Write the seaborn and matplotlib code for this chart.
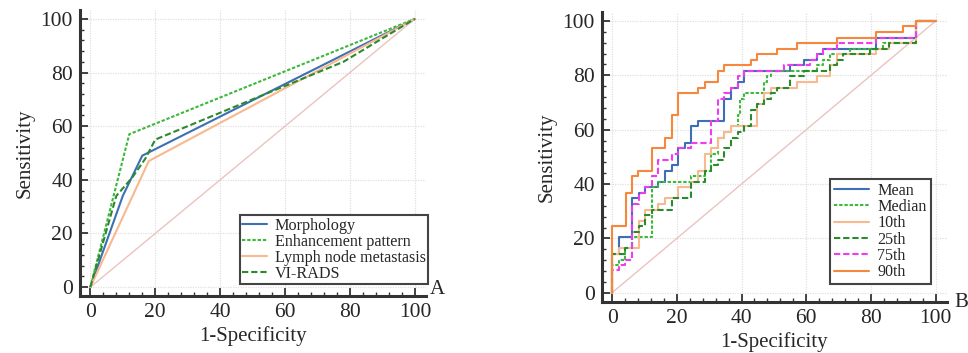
import numpy as np
import pandas as pd
import matplotlib
matplotlib.use("Agg")
import matplotlib.pyplot as plt
import seaborn as sns
from matplotlib.ticker import MultipleLocator

# ---- panel A : ROC of the categorical signs ----
morph_x = [0, 10, 16, 100]
morph_y = [0, 34, 49, 100]
enh_x = [0, 12, 100]
enh_y = [0, 57, 100]
lymph_x = [0, 18, 100]
lymph_y = [0, 47, 100]
virads_x = [0, 8, 13, 17, 20, 78, 100]
virads_y = [0, 34, 41, 48, 55, 84, 100]

# ---- panel B : step ROC curves (fpr where the curve jumps up to tpr) ----
mean_x = [0, 0, 2.0, 6.1, 8.2, 10.2, 14.3, 16.3, 18.4, 20.4, 22.4, 24.5, 26.5, 34.7, 36.7, 38.8, 40.8,
          55.1, 59.2, 63.3, 65.3, 81.6, 93.9, 100]
mean_y = [0, 14.3, 20.4, 34.7, 36.7, 38.8, 40.8, 44.9, 46.9, 53.1, 55.1, 61.2, 63.3, 71.4, 75.5, 77.6, 81.6,
          83.7, 85.7, 87.8, 89.8, 93.9, 100, 100]
median_x = [0, 0, 2.0, 4.1, 6.1, 12.2, 14.3, 24.5, 28.6, 30.6, 32.7, 34.7, 36.7, 38.8, 39.4, 40.8,
            46.9, 48.0, 49.0, 63.3, 65.3, 67.3, 73.5, 83.7, 93.9, 100]
median_y = [0, 10.2, 12.2, 16.3, 20.4, 38.8, 40.8, 42.9, 44.9, 51.0, 57.1, 59.2, 61.2, 65.3, 71.4, 73.5,
            77.6, 79.6, 81.6, 83.7, 85.7, 87.8, 89.8, 91.8, 100, 100]
p10_x = [0, 0, 2.0, 8.2, 10.2, 14.3, 16.3, 20.4, 24.5, 26.5, 28.6, 30.6, 32.7, 34.7, 36.7, 44.9,
         46.9, 49.0, 57.1, 63.3, 67.3, 69.4, 81.6, 85.7, 93.9, 100]
p10_y = [0, 14.3, 16.3, 26.5, 30.6, 32.7, 34.7, 38.8, 40.8, 44.9, 51.0, 53.1, 57.1, 59.2, 61.2, 69.4,
         73.5, 75.5, 77.6, 79.6, 83.7, 87.8, 89.8, 91.8, 100, 100]
p25_x = [0, 0, 4.1, 6.1, 8.2, 10.2, 12.2, 18.4, 24.5, 28.6, 30.6, 32.7, 34.7, 36.7, 38.8, 40.8,
         42.9, 44.9, 46.9, 49.0, 51.0, 55.1, 59.2, 67.3, 69.4, 71.4, 79.6, 85.7, 93.9, 100]
p25_y = [0, 14.3, 16.3, 22.4, 24.5, 28.6, 30.6, 34.7, 40.8, 44.9, 46.9, 49.0, 53.1, 57.1, 59.2, 61.2,
         67.3, 69.4, 71.4, 73.5, 75.5, 79.6, 81.6, 83.7, 85.7, 87.8, 89.8, 91.8, 100, 100]
p75_x = [0, 0, 2.0, 4.1, 6.1, 8.2, 10.2, 12.2, 14.3, 18.4, 20.4, 24.5, 30.6, 32.7, 34.7, 36.7, 38.8,
         40.8, 53.1, 61.2, 63.3, 65.3, 69.4, 81.6, 93.9, 100]
p75_y = [0, 8.2, 10.2, 12.2, 32.7, 36.7, 38.8, 42.9, 49.0, 51.0, 53.1, 55.1, 63.3, 71.4, 73.5, 75.5, 79.6,
         81.6, 83.7, 85.7, 87.8, 89.8, 91.8, 93.9, 100, 100]
p90_x = [0, 0, 4.2, 6.1, 8.1, 12.2, 16.3, 18.4, 20.4, 26.5, 28.6, 32.7, 34.7, 42.9, 44.9, 51.0,
         57.1, 69.4, 81.6, 89.8, 93.9, 100]
p90_y = [0, 24.5, 36.7, 42.9, 44.9, 53.1, 57.1, 65.3, 73.5, 75.5, 77.6, 81.6, 83.7, 85.7, 87.8, 89.8,
         91.8, 93.9, 95.9, 98.0, 100, 100]

diag = [0, 100]

sns.set_style("ticks")
plt.rcParams['font.family'] = ['Liberation Serif', 'DejaVu Serif']

fig = plt.figure(figsize=(9.68, 3.53), dpi=100)
axA = fig.add_axes([0.0826, 0.1615, 0.3574, 0.8102])
axB = fig.add_axes([0.6216, 0.1453, 0.3564, 0.8207])

blue = '#3d6fb6'
lgreen = '#3cb83c'
peach = '#f7b98e'
dgreen = '#2b8a2b'
magenta = '#f03cf0'
orange = '#f5883a'
pink = '#ebc3c0'

dotted = (0, (1.6, 0.9))
dashed = (0, (3.0, 1.4))


def line(ax, x, y, color, ls='-', label=None, steps=False, lw=1.5):
    kw = dict(drawstyle='steps-post') if steps else {}
    sns.lineplot(x=x, y=y, ax=ax, color=color, linestyle=ls, linewidth=lw,
                 label=label, estimator=None, sort=False, **kw)


line(axA, diag, diag, pink, lw=1.0)
line(axA, morph_x, morph_y, blue, '-', 'Morphology')
line(axA, enh_x, enh_y, lgreen, dotted, 'Enhancement pattern')
line(axA, lymph_x, lymph_y, peach, '-', 'Lymph node metastasis')
line(axA, virads_x, virads_y, dgreen, dashed, 'VI-RADS')

line(axB, diag, diag, pink, lw=1.0)
line(axB, mean_x, mean_y, blue, '-', 'Mean', True)
line(axB, median_x, median_y, lgreen, dotted, 'Median', True)
line(axB, p10_x, p10_y, peach, '-', '10th', True)
line(axB, p25_x, p25_y, dgreen, dashed, '25th', True)
line(axB, p75_x, p75_y, magenta, dashed, '75th', True)
line(axB, p90_x, p90_y, orange, '-', '90th', True)

for ax in (axA, axB):
    ax.set_xlim(-3.2, 103.4)
    ax.set_ylim(-3.3, 103.3)
    ax.xaxis.set_major_locator(MultipleLocator(20))
    ax.yaxis.set_major_locator(MultipleLocator(20))
    ax.xaxis.set_minor_locator(MultipleLocator(4))
    ax.yaxis.set_minor_locator(MultipleLocator(4))
    ax.grid(True, which='major', color='#e0e0e0', linestyle=(0, (1, 1)), linewidth=0.9)
    ax.set_axisbelow(True)
    for s in ('top', 'right'):
        ax.spines[s].set_visible(False)
    for s in ('left', 'bottom'):
        ax.spines[s].set_linewidth(2.2)
        ax.spines[s].set_color('#333333')
    ax.tick_params(which='major', direction='in', length=6, width=1.3, color='#333333',
                   labelsize=15.5, pad=5)
    ax.tick_params(which='minor', direction='in', length=3, width=1.0, color='#333333')
    ax.set_xlabel('1-Specificity', fontsize=15, labelpad=3)
    ax.set_ylabel('Sensitivity', fontsize=15, labelpad=4)

legA = axA.legend(loc='lower right', bbox_to_anchor=(1.006, 0.042), fontsize=11.6,
                  frameon=True, fancybox=False, labelspacing=0.0, borderpad=0.15,
                  handlelength=1.5, handletextpad=0.5, borderaxespad=0)
legB = axB.legend(loc='lower right', bbox_to_anchor=(0.954, 0.06), fontsize=11.6,
                  frameon=True, fancybox=False, labelspacing=0.02, borderpad=0.25,
                  handlelength=2.2, handletextpad=0.5, borderaxespad=0)
for leg in (legA, legB):
    fr = leg.get_frame()
    fr.set_edgecolor('#444444')
    fr.set_linewidth(1.5)
    fr.set_alpha(1)

fig.text(430 / 968, 1 - 294 / 353, 'A', fontsize=15, ha='left', va='baseline')
fig.text(954 / 968, 1 - 307 / 353, 'B', fontsize=15, ha='left', va='baseline')

fig.savefig('out.png', dpi=100)
